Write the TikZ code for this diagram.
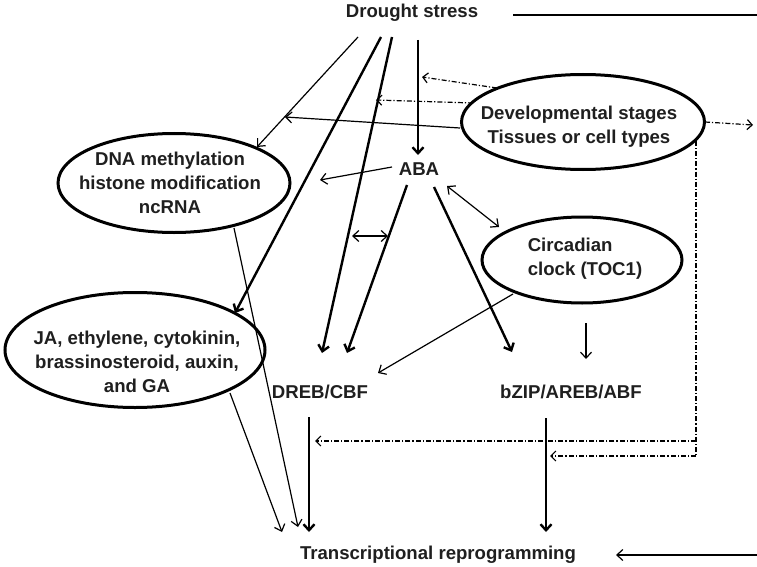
\documentclass[tikz,border=0pt]{standalone}
\usepackage{fontspec}
\setmainfont{Liberation Sans}
\usetikzlibrary{arrows.meta,shapes.geometric}
\begin{document}
\begin{tikzpicture}[x=1pt,y=-1pt,
  lbl/.style={font=\fontsize{18.6}{24}\selectfont\bfseries, text=black!88, inner sep=0pt, align=center},
  oval/.style={ellipse, draw, line width=3pt, inner sep=0pt},
  thinarr/.style={line width=1.2pt, -{Straight Barb[length=6pt,width=11pt]}},
  thinbi/.style={line width=1.2pt, {Straight Barb[length=6pt,width=11pt]}-{Straight Barb[length=6pt,width=11pt]}},
  thickarr/.style={line width=2.4pt, -{Straight Barb[length=6pt,width=11pt]}},
  plainline/.style={line width=1.4pt},
  thickline/.style={line width=2.4pt},
  ddarr/.style={line width=1.2pt, dash pattern=on 5pt off 2pt on 1.2pt off 2pt, -{Straight Barb[length=5pt,width=10pt]}},
  ddline/.style={line width=1.2pt, dash pattern=on 5pt off 2pt on 1.2pt off 2pt}]
\useasboundingbox (0,0) rectangle (757,567);
\fill[white] (0,0) rectangle (757,567);

% text nodes
\node[lbl] (ds) at (412,13) {Drought stress};
\node[lbl] (aba) at (419,169) {ABA};
\node[lbl] (dreb) at (320,392) {DREB/CBF};
\node[lbl] (bzip) at (571,392) {bZIP/AREB/ABF};
\node[lbl] (tr) at (438,555) {Transcriptional reprogramming};

% ellipses
\node[oval, minimum width=243pt, minimum height=95pt] (dev) at (583,122) {};
\node[lbl] (devt) at (579,127) {Developmental stages\\Tissues or cell types};
\node[oval, minimum width=232pt, minimum height=99pt] (dna) at (174,183) {};
\node[lbl] (dnat) at (170,183) {DNA methylation\\histone modification\\ncRNA};
\node[oval, minimum width=260pt, minimum height=115pt] (ja) at (135,350) {};
\node[lbl] (jat) at (137,362) {JA, ethylene, cytokinin,\\brassinosteroid, auxin,\\and GA};
\node[oval, minimum width=200pt, minimum height=86pt] (circ) at (582,260) {};
\node[lbl, align=left] (circt) at (585,259) {Circadian\\clock (TOC1)};

% coordinates
\coordinate (dsR) at (513,15);
\coordinate (edgeTop) at (757,15);
\coordinate (edgeBot) at (757,555);
\coordinate (trR) at (616,555);
\coordinate (d1) at (358,37);
\coordinate (d2) at (381,37);
\coordinate (d3) at (392,37);
\coordinate (d4) at (418,40);
\coordinate (dnaTop) at (257,147);
\coordinate (jaTop) at (235,313);
\coordinate (drebA) at (322,353);
\coordinate (drebB) at (347,353);
\coordinate (abaTop) at (418,155);
\coordinate (devL) at (460,128);
\coordinate (devLtip) at (285,117);
\coordinate (devA) at (497,88);
\coordinate (devAtip) at (422,77);
\coordinate (devB) at (473,103);
\coordinate (devBtip) at (376,100);
\coordinate (devR) at (705,122);
\coordinate (devRtip) at (753,125);
\coordinate (devD) at (696,141);
\coordinate (corner1) at (696,441);
\coordinate (corner2) at (696,456);
\coordinate (tip1) at (315,441);
\coordinate (tip2) at (550,456);
\coordinate (abaL) at (392,167);
\coordinate (abaLtip) at (320,180);
\coordinate (abaD1) at (407,185);
\coordinate (abaD2) at (434,187);
\coordinate (bzipTip) at (512,352);
\coordinate (biL) at (352,236);
\coordinate (biR) at (388,236);
\coordinate (abaC) at (447,186);
\coordinate (circNW) at (499,227);
\coordinate (circSW) at (513,294);
\coordinate (drebTip) at (378,373);
\coordinate (circS) at (586,323);
\coordinate (circStip) at (586,359);
\coordinate (dnaS) at (234,228);
\coordinate (jaS) at (230,393);
\coordinate (trA) at (282,532);
\coordinate (trB) at (298,527);
\coordinate (trC) at (309,532);
\coordinate (trD) at (546,532);
\coordinate (drebS) at (309,417);
\coordinate (bzipS) at (546,418);

% connectors
\draw[plainline] (dsR) -- (edgeTop);
\draw[thinarr] (edgeBot) -- (trR);
\draw[thinarr] (d1) -- (dnaTop);
\draw[thickarr] (d2) -- (jaTop);
\draw[thickarr] (d3) -- (drebA);
\draw[thickarr] (d4) -- (abaTop);
\draw[thinarr] (devL) -- (devLtip);
\draw[ddarr] (devA) -- (devAtip);
\draw[ddarr] (devB) -- (devBtip);
\draw[ddarr] (devR) -- (devRtip);
\draw[ddline] (devD) -- (corner2);
\draw[ddarr] (corner1) -- (tip1);
\draw[ddarr] (corner2) -- (tip2);
\draw[thinarr] (abaL) -- (abaLtip);
\draw[thickarr] (abaD1) -- (drebB);
\draw[thinbi] (biL) -- (biR);
\draw[thickarr] (abaD2) -- (bzipTip);
\draw[thinbi] (abaC) -- (circNW);
\draw[thinarr] (circSW) -- (drebTip);
\draw[thinarr] (circS) -- (circStip);
\draw[thinarr] (dnaS) -- (trB);
\draw[thinarr] (jaS) -- (trA);
\draw[thickarr] (drebS) -- (trC);
\draw[thickarr] (bzipS) -- (trD);
\end{tikzpicture}
\end{document}
